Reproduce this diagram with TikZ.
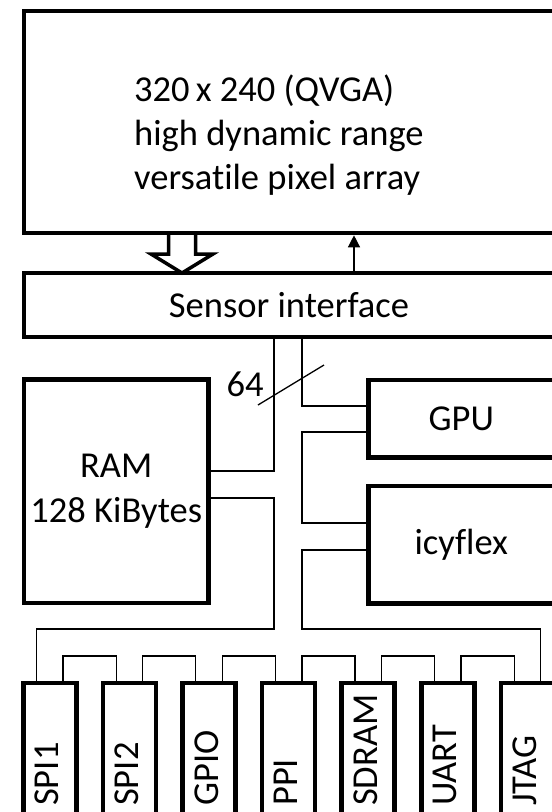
\documentclass[tikz,border=0pt]{standalone}
\usepackage{fontspec}
\setmainfont{Carlito}[Ligatures=NoCommon]
\usetikzlibrary{arrows.meta}
\begin{document}
\begin{tikzpicture}[x=1pt,y=-1pt,
  txt/.style={inner sep=0pt, font=\fontsize{36.5}{44}\selectfont},
  box/.style={draw, line width=4.7pt, outer sep=0pt, inner sep=0pt, align=center, line join=miter, font=\fontsize{36.5}{45}\selectfont},
  pbox/.style={box, minimum width=53pt, minimum height=167pt},
  plab/.style={txt, rotate=90, anchor=base west},
  bus/.style={line width=1.3pt},
  hollow/.style={line width=3.5pt, line join=miter},
  ctrl/.style={line width=1.3pt, -{Triangle[length=12pt,width=12pt]}, shorten >=2.3pt}]
\useasboundingbox (0,0) rectangle (552,812);
\clip (0,0) rectangle (552,812);
\node[box, minimum width=530pt, minimum height=222pt] (pix) at (289,122) {};
\node[txt, anchor=base west, align=left] (pixt) at (134,189.7) {320\,x 240 (QVGA)\\high dynamic range\\versatile pixel array};
\node[box, minimum width=530pt, minimum height=64pt] (sens) at (289,305) {Sensor interface};
\node[box, minimum width=184.5pt, minimum height=223.5pt] (ram) at (116.25,491.25) {RAM\\128 KiBytes};
\node[box, minimum width=185.5pt, minimum height=77.5pt] (gpu) at (461.25,418.75) {GPU};
\node[box, minimum width=185.5pt, minimum height=117.5pt] (icy) at (461.25,544.75) {icyflex};
\foreach \i/\t in {1/SPI1,2/SPI2,3/GPIO,4/PPI,5/SDRAM,6/UART,7/JTAG}{
  \node[pbox] (p\i) at ({49.8+79.6*(\i-1)},766.5) {};
  \node[plab] (l\i) at ([shift={(9,39.5)}]p\i.center) {\t};
}
% data path arrow
\coordinate (ha) at (182,0);
\coordinate (ta) at (354,0);
\draw[hollow] (pix.south -| ha) ++(-13.5,0) -- ++(0,21) -- ++(-17.5,0) -- (sens.north -| ha) -- ++(31,-19) -- ++(-17.5,0) -- ++(0,-21);
\draw[ctrl] (sens.north -| ta) -- (pix.south -| ta);
% bus
\coordinate (A) at (274,0);
\coordinate (B) at (302,0);
\coordinate (r1) at (0,471);
\coordinate (r2) at (0,498);
\coordinate (g1) at (0,406);
\coordinate (g2) at (0,432);
\coordinate (i1) at (0,523);
\coordinate (i2) at (0,550);
\coordinate (bl) at (0,629);
\draw[bus] (sens.south -| A) |- (ram.east |- r1);
\draw[bus] (ram.east |- r2) -| (A |- bl) -| ([xshift=-13.25pt]p1.north);
\draw[bus] (sens.south -| B) |- (gpu.west |- g1);
\draw[bus] (gpu.west |- g2) -| (B |- i1) -- (icy.west |- i1);
\draw[bus] (icy.west |- i2) -| (B |- bl) -| ([xshift=13.25pt]p7.north);
\foreach \i/\j in {1/2,2/3,3/4,4/5,5/6,6/7}{
  \draw[bus] ([xshift=13.25pt]p\i.north) -- ++(0,-27) -| ([xshift=-13.25pt]p\j.north);
}
% bus width mark
\coordinate (s1) at (258,405);
\coordinate (s2) at (324,365);
\draw[bus] (s1) -- (s2);
\node[txt] (w) at (245,384) {64};
\end{tikzpicture}
\end{document}
